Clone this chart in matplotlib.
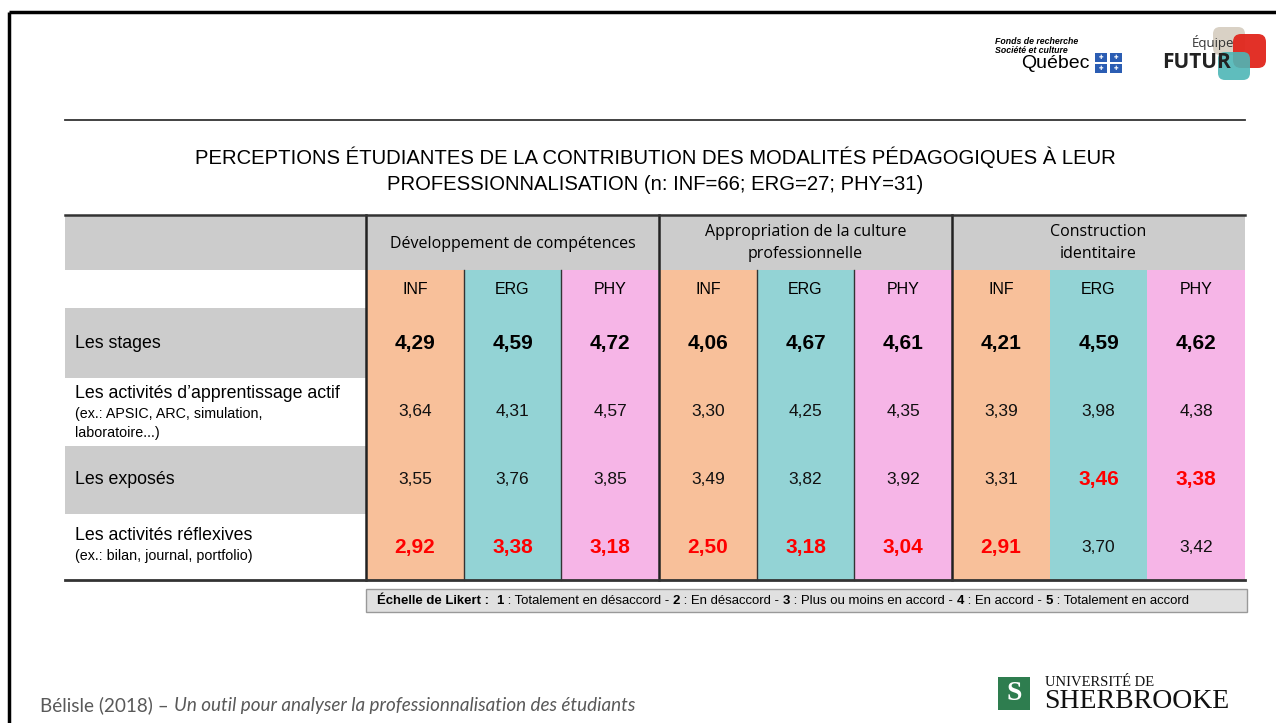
import numpy as np
import matplotlib.pyplot as plt
from matplotlib.patches import Rectangle, FancyBboxPatch

# data
title_l1 = "PERCEPTIONS ÉTUDIANTES DE LA CONTRIBUTION DES MODALITÉS PÉDAGOGIQUES À LEUR"
title_l2 = "PROFESSIONNALISATION (n: INF=66; ERG=27; PHY=31)"
groups = ["Développement de compétences",
          "Appropriation de la culture\nprofessionnelle",
          "Construction\nidentitaire"]
programs = ["INF", "ERG", "PHY"]
row_titles = ["Les stages", "Les activités d\u2019apprentissage actif", "Les exposés",
              "Les activités réflexives"]
row_notes = ["", "(ex.: APSIC, ARC, simulation,\nlaboratoire...)", "",
             "(ex.: bilan, journal, portfolio)"]
values = np.array([
    [4.29, 4.59, 4.72, 4.06, 4.67, 4.61, 4.21, 4.59, 4.62],
    [3.64, 4.31, 4.57, 3.30, 4.25, 4.35, 3.39, 3.98, 4.38],
    [3.55, 3.76, 3.85, 3.49, 3.82, 3.92, 3.31, 3.46, 3.38],
    [2.92, 3.38, 3.18, 2.50, 3.18, 3.04, 2.91, 3.70, 3.42],
])
footer = "Bélisle (2018) \u2013 "
footer_it = "Un outil pour analyser la professionnalisation des étudiants"

prog_colors = {"INF": "#f8c09a", "ERG": "#93d3d5", "PHY": "#f6b5e7"}
GRAY = "#cccccc"
arial = ["Liberation Sans", "DejaVu Sans"]
calib = ["Open Sans", "DejaVu Sans"]
lato = ["Lato", "DejaVu Sans"]
serif = ["Liberation Serif", "DejaVu Serif"]

fig = plt.figure(figsize=(12.76, 7.23), dpi=100)
ax = fig.add_axes([0, 0, 1, 1])
ax.set_xlim(0, 1276)
ax.set_ylim(723, 0)
ax.axis("off")

# slide frame
ax.plot([9, 9], [12, 723], color="black", lw=2.5, solid_capstyle="butt")
ax.plot([9, 1276], [12, 12], color="black", lw=2.5, solid_capstyle="butt")

# rule and title
ax.plot([65, 1245], [120, 120], color="#333333", lw=1.3)
ax.text(655, 157, title_l1, ha="center", va="center", fontsize=14.6, family=arial)
ax.text(655, 184, title_l2, ha="center", va="center", fontsize=14.6, family=arial)

# table geometry
left, x0, cw = 65, 366, 97.67
ncols = len(groups) * len(programs)
right = x0 + cw * ncols
y_top, y_h1, y_h2 = 215, 270, 308
row_edges = [308, 378, 446, 514, 580]

ax.add_patch(Rectangle((left, y_top), right - left, y_h1 - y_top, fc=GRAY, ec="none"))
for i in range(len(row_titles)):
    y0, y1 = row_edges[i], row_edges[i + 1]
    if i % 2 == 0:
        ax.add_patch(Rectangle((left, y0), x0 - left, y1 - y0, fc=GRAY, ec="none"))
    ym = (y0 + y1) / 2
    if row_notes[i]:
        nl = row_notes[i].count("\n") + 1
        ax.text(75, ym - 7 * nl - 4, row_titles[i], ha="left", va="center",
                fontsize=12.8, family=arial)
        ax.text(75, ym - 7 * nl + 9, row_notes[i], ha="left", va="top",
                fontsize=10.3, family=arial, linespacing=1.45)
    else:
        ax.text(75, ym, row_titles[i], ha="left", va="center", fontsize=12.8, family=arial)

col_max = values.max(axis=0)
col_min = values.min(axis=0)
for g, gname in enumerate(groups):
    gx = x0 + g * 3 * cw
    ax.text(gx + 1.5 * cw, (y_top + y_h1) / 2 + 1, gname, ha="center", va="center",
            fontsize=11.5, family=calib, linespacing=1.5)
    for p, prog in enumerate(programs):
        c = g * 3 + p
        cx = x0 + c * cw
        ax.add_patch(Rectangle((cx, y_h1), cw, row_edges[-1] - y_h1,
                               fc=prog_colors[prog], ec="none"))
        ax.text(cx + cw / 2, (y_h1 + y_h2) / 2 + 1, prog, ha="center", va="center",
                fontsize=11.5, family=arial)
        for r in range(values.shape[0]):
            v = values[r, c]
            s = f"{v:.2f}".replace(".", ",")
            ym = (row_edges[r] + row_edges[r + 1]) / 2
            if v == col_min[c]:
                ax.text(cx + cw / 2, ym, s, ha="center", va="center", fontsize=15,
                        family=arial, weight="bold", color="#ff0000")
            elif v == col_max[c]:
                ax.text(cx + cw / 2, ym, s, ha="center", va="center", fontsize=15,
                        family=arial, weight="bold", color="black")
            else:
                ax.text(cx + cw / 2, ym, s, ha="center", va="center", fontsize=12.5,
                        family=arial, color="#111111")
        if p > 0 and g < 2:
            ax.plot([cx, cx], [y_h1, row_edges[-1]], color="#333333", lw=1.0)
    ax.plot([gx, gx], [y_top, row_edges[-1]], color="#222222", lw=1.8)

ax.plot([left, right], [y_top, y_top], color="#333333", lw=1.8)
ax.plot([left, right], [row_edges[-1], row_edges[-1]], color="#333333", lw=2.0)

# Likert scale box
ax.add_patch(Rectangle((366, 589), 881, 23, fc="#e0e0e0", ec="#999999", lw=1.0))
parts = [("Échelle de Likert :  ", "bold"), ("1", "bold"), (" : Totalement en désaccord - ", "normal"),
         ("2", "bold"), (" : En désaccord - ", "normal"), ("3", "bold"),
         (" : Plus ou moins en accord - ", "normal"), ("4", "bold"), (" : En accord - ", "normal"),
         ("5", "bold"), (" : Totalement en accord", "normal")]
fig.canvas.draw()
rend = fig.canvas.get_renderer()
inv = ax.transData.inverted()
xt = 377
for txt, w in parts:
    t = ax.text(xt, 601, txt, ha="left", va="center", fontsize=9.45, family=arial, weight=w)
    bb = t.get_window_extent(renderer=rend)
    xt = inv.transform((bb.x1, bb.y0))[0]

# footer
t = ax.text(40, 705, footer, ha="left", va="center", fontsize=13.6, family=lato, color="#595959")
bb = t.get_window_extent(renderer=rend)
xf = inv.transform((bb.x1, bb.y0))[0]
ax.text(xf, 705, footer_it, ha="left", va="center", fontsize=13.6, family=lato,
        style="italic", color="#595959")

# FRQSC logo
ax.text(995, 46, "Fonds de recherche\nSociété et culture", ha="left", va="center",
        fontsize=6.3, family=arial, weight="bold", style="italic", linespacing=1.0)
ax.text(1089, 63, "Québec", ha="right", va="center", fontsize=14, family=arial)
for dx in (0, 15):
    for dy in (0, 11):
        ax.add_patch(Rectangle((1095 + dx, 53 + dy), 12, 9, fc="#2b5db3", ec="none"))
        ax.text(1101 + dx, 57.5 + dy, "\u271a", ha="center", va="center", fontsize=4,
                color="white", family=["DejaVu Sans"])

# Equipe FUTUR logo
ax.add_patch(FancyBboxPatch((1213, 27), 32, 28, boxstyle="round,pad=0,rounding_size=7",
                            fc="#d9d1c5", ec="none"))
ax.add_patch(FancyBboxPatch((1233, 34), 33, 34, boxstyle="round,pad=0,rounding_size=8",
                            fc="#e1261c", ec="none", alpha=0.95))
ax.add_patch(FancyBboxPatch((1218, 52), 32, 28, boxstyle="round,pad=0,rounding_size=7",
                            fc="#4db6b6", ec="none", alpha=0.9))
ax.text(1234, 42, "Équipe", ha="right", va="center", fontsize=9.5, family=calib, color="#333333")
ax.text(1162, 62, "FUTUR", ha="left", va="center", fontsize=15, family=calib,
        weight="bold", color="#222222")

# Sherbrooke logo
ax.add_patch(Rectangle((998, 677), 32, 33, fc="#2e7d4f", ec="none"))
ax.text(1014, 694, "S", ha="center", va="center", fontsize=20, color="white",
        family=serif, weight="bold")
ax.text(1045, 682, "UNIVERSITÉ DE", ha="left", va="center", fontsize=10.5,
        family=serif, color="#111111")
ax.text(1044, 702, "SHERBROOKE", ha="left", va="center", fontsize=20,
        family=serif, color="#111111")

fig.savefig("out.png", dpi=100)
